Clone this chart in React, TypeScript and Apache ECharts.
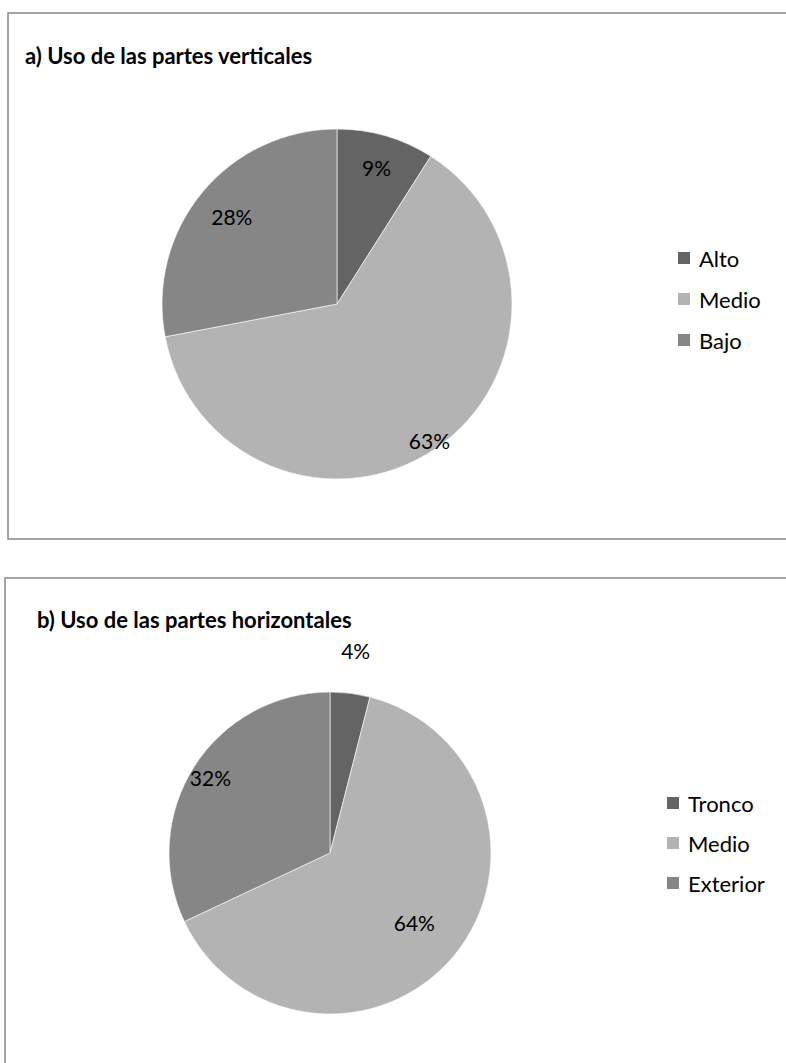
import React, { useEffect, useRef } from "react";
import * as echarts from "echarts";

// ---- data ----
const verticalCategories = ["Alto", "Medio", "Bajo"];
const verticalValues = [9, 63, 28];
const horizontalCategories = ["Tronco", "Medio", "Exterior"];
const horizontalValues = [4, 64, 32];
const titleA = "a) Uso de las partes verticales";
const titleB = "b) Uso de las partes horizontales";

const FONT = "Lato, 'Noto Sans', sans-serif";
const COLORS = ["#646464", "#b3b3b3", "#868686"];
const FS = 21;
const LEGEND_FS = 22;

function makeLabelLayout(values: number[], cx: number, cy: number, r: number, factors: number[]) {
  const total = values.reduce((a, b) => a + b, 0);
  return (params: any) => {
    const i = params.dataIndex;
    const before = values.slice(0, i).reduce((a, b) => a + b, 0);
    const mid = ((before + values[i] / 2) / total) * Math.PI * 2;
    const d = r * factors[i];
    return {
      x: cx + d * Math.sin(mid),
      y: cy - d * Math.cos(mid),
      align: "center",
      verticalAlign: "middle",
    };
  };
}

function pieSeries(cats: string[], vals: number[], cx: number, cy: number, r: number, factors: number[]) {
  return {
    type: "pie",
    center: [cx, cy],
    radius: r,
    startAngle: 90,
    clockwise: true,
    silent: true,
    data: cats.map((c, i) => ({ name: c, value: vals[i], itemStyle: { color: COLORS[i] } })),
    itemStyle: { borderColor: "#ffffff", borderWidth: 0.6 },
    label: {
      show: true,
      position: "inside",
      formatter: (p: any) => `${p.value}%`,
      fontFamily: FONT,
      fontSize: FS,
      color: "#000",
    },
    labelLine: { show: false },
    labelLayout: makeLabelLayout(vals, cx, cy, r, factors),
  };
}

export default function App() {
  const ref = useRef<HTMLDivElement>(null);
  useEffect(() => {
    if (!ref.current) return;
    const chart = echarts.init(ref.current, undefined, { renderer: "svg" });
    chart.setOption({
      animation: false,
      backgroundColor: "#ffffff",
      title: [
        {
          text: titleA,
          left: 25,
          top: 44,
          padding: 0,
          textStyle: { fontFamily: FONT, fontWeight: "bold", fontSize: 22, color: "#000" },
        },
        {
          text: titleB,
          left: 37,
          top: 608,
          padding: 0,
          textStyle: { fontFamily: FONT, fontWeight: "bold", fontSize: 22, color: "#000" },
        },
      ],
      legend: [
        {
          data: verticalCategories,
          orient: "vertical",
          left: 676,
          top: 246,
          padding: 0,
          icon: "rect",
          itemWidth: 14,
          itemHeight: 14,
          itemGap: 17,
          selectedMode: false,
          textStyle: { fontFamily: FONT, fontSize: LEGEND_FS, color: "#000", lineHeight: 24, padding: [0, 0, 0, 3] },
        },
        {
          data: horizontalCategories,
          orient: "vertical",
          left: 665,
          top: 791,
          padding: 0,
          icon: "rect",
          itemWidth: 14,
          itemHeight: 14,
          itemGap: 16,
          selectedMode: false,
          textStyle: { fontFamily: FONT, fontSize: LEGEND_FS, color: "#000", lineHeight: 24, padding: [0, 0, 0, 3] },
        },
      ],
      graphic: [
        {
          type: "rect",
          shape: { x: 8, y: 13, width: 800, height: 526 },
          style: { fill: "none", stroke: "#888888", lineWidth: 1.5 },
          silent: true,
        },
        {
          type: "rect",
          shape: { x: 5, y: 578, width: 800, height: 600 },
          style: { fill: "none", stroke: "#888888", lineWidth: 1.5 },
          silent: true,
        },
      ],
      series: [
        pieSeries(verticalCategories, verticalValues, 337, 304, 175, [0.81, 0.94, 0.78]),
        pieSeries(horizontalCategories, horizontalValues, 330, 853, 161, [1.27, 0.68, 0.88]),
      ],
    });
    return () => chart.dispose();
  }, []);
  return (
    <div
      ref={ref}
      style={{ position: "absolute", left: 0, top: 0, width: 786, height: 1063 }}
    />
  );
}
